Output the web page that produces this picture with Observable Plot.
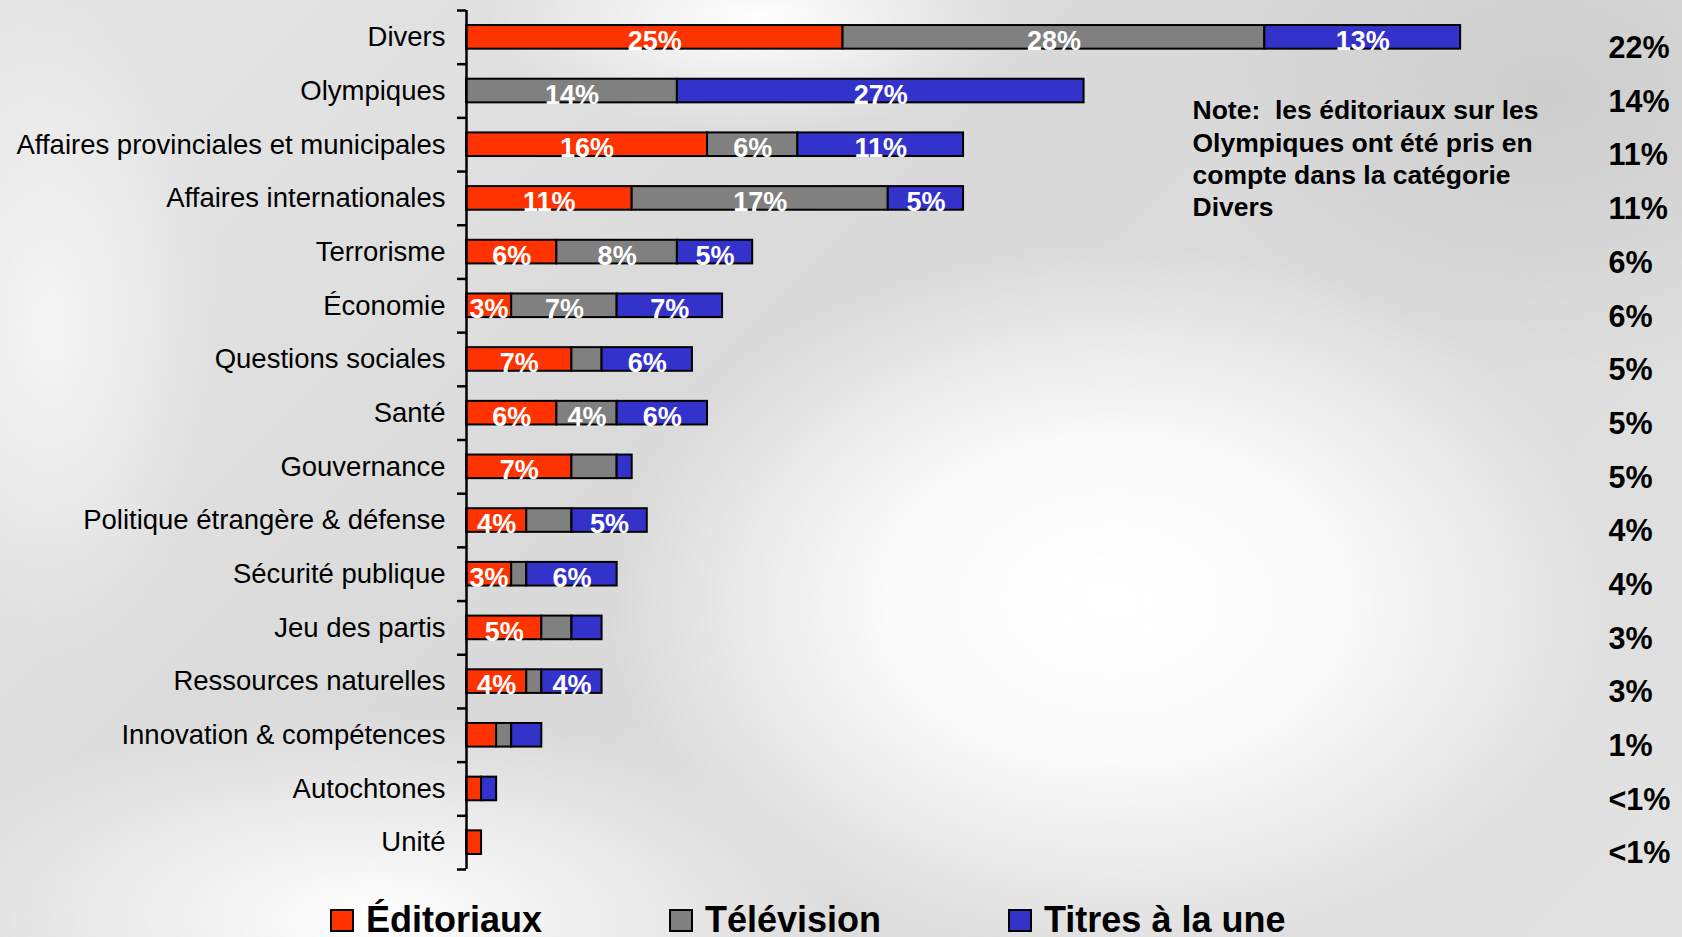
<!DOCTYPE html>
<html>
<head>
<meta charset="utf-8">
<script src="https://cdn.jsdelivr.net/npm/d3@7"></script>
<script src="https://cdn.jsdelivr.net/npm/@observablehq/plot@0.6"></script>
<style>
  html, body { margin: 0; padding: 0; width: 1682px; height: 937px; overflow: hidden; }
  body {
    font-family: "Liberation Sans", Arial, sans-serif;
    background:
      radial-gradient(ellipse 30% 38% at 66% 64%, rgba(255,255,255,1) 0%, rgba(255,255,255,0.85) 45%, rgba(255,255,255,0) 100%),
      radial-gradient(ellipse 16% 12% at 45% 2%, rgba(255,255,255,1), rgba(255,255,255,0)),
      radial-gradient(ellipse 28% 22% at 22% 98%, rgba(255,255,255,1), rgba(255,255,255,0)),
      radial-gradient(ellipse 10% 35% at 3% 35%, rgba(245,245,245,1), rgba(245,245,245,0)),
      radial-gradient(ellipse 22% 30% at 92% 10%, rgba(205,205,205,1), rgba(205,205,205,0)),
      linear-gradient(135deg, #e6e6e6 0%, #d9d9d9 45%, #e2e2e2 100%);
  }
  #chart { position: absolute; left: 0; top: 0; }
  .legend { position: absolute; top: 902px; left: 0; width: 1682px; height: 36px; font-size: 36px; font-weight: bold; line-height: 36px; color: #000; }
  .legend .item { position: absolute; top: 0; white-space: nowrap; }
  .legend .sw { display: inline-block; width: 20px; height: 19px; border: 2px solid #000; margin-right: 12px; vertical-align: baseline; }
</style>
</head>
<body>
<div id="chart"></div>
<div class="legend" id="legend"></div>
<script>
const categories = ["Divers","Olympiques","Affaires provinciales et municipales","Affaires internationales","Terrorisme","Économie","Questions sociales","Santé","Gouvernance","Politique étrangère & défense","Sécurité publique","Jeu des partis","Ressources naturelles","Innovation & compétences","Autochtones","Unité"];
const seriesNames = ["Éditoriaux","Télévision","Titres à la une"];
const seriesColors = ["#FF3300","#808080","#3333CC"];
const editoriaux = [25,0,16,11,6,3,7,6,7,4,3,5,4,2,1,1];
const television = [28,14,6,17,8,7,2,4,3,3,1,2,1,1,0,0];
const titres     = [13,27,11,5,5,7,6,6,1,5,6,2,4,2,1,0];
const labelsEditoriaux = ["25%","","16%","11%","6%","3%","7%","6%","7%","4%","3%","5%","4%","","",""];
const labelsTelevision = ["28%","14%","6%","17%","8%","7%","","4%","","","","","","","",""];
const labelsTitres     = ["13%","27%","11%","5%","5%","7%","6%","6%","","5%","6%","","4%","","",""];
const totals = ["22%","14%","11%","11%","6%","6%","5%","5%","5%","4%","4%","3%","3%","1%","<1%","<1%"];
const noteText = "Note:\u00a0 les éditoriaux sur les\nOlympiques ont été pris en\ncompte dans la catégorie\nDivers";

const seriesValues = [editoriaux, television, titres];
const seriesLabels = [labelsEditoriaux, labelsTelevision, labelsTitres];
const rows = [];
categories.forEach((c, i) => {
  seriesNames.forEach((s, j) => {
    rows.push({cat: c, series: s, value: seriesValues[j][i], label: seriesLabels[j][i]});
  });
});
const bars = rows.filter(d => d.value > 0);

const W = 1682, H = 880, mT = 10, mB = 11;
const step = (H - mT - mB) / categories.length;
const font = "Liberation Sans, Arial, sans-serif";

const chart = Plot.plot({
  width: W,
  height: H,
  marginLeft: 466,
  marginRight: 11,
  marginTop: mT,
  marginBottom: mB,
  style: {background: "transparent", fontFamily: font, overflow: "visible"},
  x: {domain: [0, 80], axis: null},
  y: {domain: categories, paddingInner: 0.56, paddingOuter: 0.28, round: false, label: null},
  color: {domain: seriesNames, range: seriesColors},
  marks: [
    Plot.axisY({tickSize: 0, tickPadding: 21, fontSize: 27.5, label: null, fill: "black"}),
    Plot.barX(bars, Plot.stackX({x: "value", y: "cat", z: "series", fill: "series", stroke: "black", strokeWidth: 2})),
    Plot.text(bars, Plot.stackX({x: "value", y: "cat", z: "series", text: "label", fill: "white", fontWeight: "bold", fontSize: 27, dy: 4})),
    Plot.ruleX([0], {stroke: "black", strokeWidth: 2.5}),
    Plot.ruleY(categories, {y: d => d, x1: 0, x2: 0, insetLeft: -9, dy: -step / 2, stroke: "black", strokeWidth: 2.5}),
    Plot.ruleY(categories.slice(-1), {y: d => d, x1: 0, x2: 0, insetLeft: -9, dy: step / 2, stroke: "black", strokeWidth: 2.5}),
    Plot.text(categories, {y: d => d, text: totals, frameAnchor: "right", textAnchor: "start", dx: -63, dy: 11, fontSize: 30.5, fontWeight: "bold", fill: "black"}),
    Plot.text([noteText], {text: d => d, frameAnchor: "top-left", lineAnchor: "top", textAnchor: "start", dx: 726, dy: 86, fontSize: 26.5, fontWeight: "bold", lineHeight: 1.22, fill: "black"})
  ]
});
document.getElementById("chart").appendChild(chart);

const legendLeft = [330, 669, 1008];
const legend = document.getElementById("legend");
seriesNames.forEach((s, j) => {
  const item = document.createElement("div");
  item.className = "item";
  item.style.left = legendLeft[j] + "px";
  const sw = document.createElement("span");
  sw.className = "sw";
  sw.style.background = seriesColors[j];
  item.appendChild(sw);
  item.appendChild(document.createTextNode(s));
  legend.appendChild(item);
});
</script>
</body>
</html>
